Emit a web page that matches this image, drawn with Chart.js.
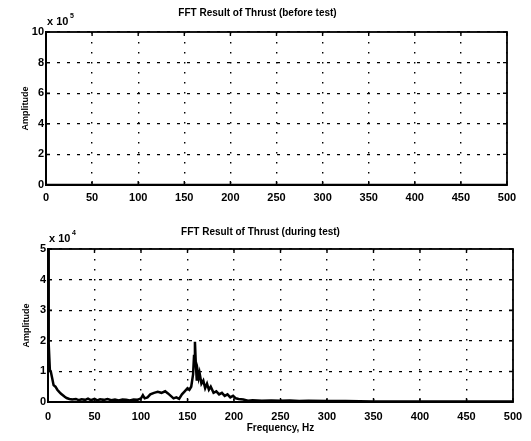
<!DOCTYPE html>
<html>
<head>
<meta charset="utf-8">
<script src="https://cdn.jsdelivr.net/npm/chart.js@4.4.0/dist/chart.umd.min.js"></script>
<style>
  body { margin: 0; background: #fff; }
  #wrap { position: relative; width: 531px; height: 441px; }
  canvas { position: absolute; left: 0; }
</style>
</head>
<body>
<div id="wrap">
  <canvas id="before" width="531" height="215" style="top:0"></canvas>
  <canvas id="during" width="531" height="226" style="top:215px"></canvas>
</div>
<script>
// before test: spectrum sits on the zero line (units x 10^5)
const freqBefore = [0, 50, 100, 150, 200, 250, 300, 350, 400, 450, 500];
const ampBefore  = [0, 0, 0, 0, 0, 0, 0, 0, 0, 0, 0];

// during test (units x 10^4)
const freqDuring = [0, 0.5, 1, 2, 3, 4, 5, 6, 8, 10, 12, 14, 16, 18, 20, 23, 26, 30, 33, 36, 40, 43, 46, 50, 53, 56, 60, 64, 68, 72, 76, 80, 84, 88, 92, 96,
  100, 102, 104, 107, 110, 114, 118, 122, 126, 129, 132, 135, 138, 141, 144, 147, 150, 152, 154, 156, 157, 158, 159, 160, 161, 162, 163, 165, 167, 169, 171, 173, 175, 178, 181, 184, 187, 190, 193, 196, 199, 202, 205,
  210, 215, 220, 230, 240, 250, 260, 270, 280, 300, 320, 350, 400, 450, 500];
const ampDuring  = [5.0, 4.2, 1.9, 1.05, 1.0, 0.85, 0.7, 0.55, 0.5, 0.4, 0.33, 0.27, 0.22, 0.17, 0.13, 0.1, 0.08, 0.1, 0.06, 0.09, 0.07, 0.11, 0.06, 0.1, 0.05, 0.09, 0.07, 0.1, 0.06, 0.08, 0.05, 0.08, 0.07, 0.05, 0.08, 0.07,
  0.12, 0.22, 0.12, 0.15, 0.25, 0.3, 0.33, 0.3, 0.35, 0.28, 0.2, 0.12, 0.15, 0.1, 0.25, 0.35, 0.45, 0.4, 0.5, 0.9, 1.5, 1.97, 1.2, 0.7, 1.0, 0.8, 0.95, 0.6, 0.7, 0.45, 0.6, 0.4, 0.5, 0.3, 0.35, 0.25, 0.3, 0.2, 0.25, 0.15, 0.2, 0.12, 0.1,
  0.08, 0.04, 0.06, 0.04, 0.05, 0.04, 0.05, 0.03, 0.04, 0.03, 0.03, 0.02, 0.02, 0.02, 0.02];

const xTickStep = 50;
const FONT = "'Liberation Sans', Arial, sans-serif";

// box around the plot, little inside ticks, and the "x 10^n" multiplier
const frame = {
  id: 'frame',
  afterDraw(chart, args, opts) {
    const { ctx, chartArea: a, scales: { x, y } } = chart;
    ctx.save();
    ctx.strokeStyle = '#000';
    ctx.lineWidth = 1.8;
    ctx.strokeRect(a.left, a.top, a.right - a.left, a.bottom - a.top);
    ctx.lineWidth = 1.4;
    ctx.beginPath();
    x.ticks.forEach(t => {
      const px = x.getPixelForValue(t.value);
      ctx.moveTo(px, a.top); ctx.lineTo(px, a.top + 4);
      ctx.moveTo(px, a.bottom); ctx.lineTo(px, a.bottom - 4);
    });
    y.ticks.forEach(t => {
      const py = y.getPixelForValue(t.value);
      ctx.moveTo(a.left, py); ctx.lineTo(a.left + 4, py);
      ctx.moveTo(a.right, py); ctx.lineTo(a.right - 4, py);
    });
    ctx.stroke();
    ctx.fillStyle = '#000';
    ctx.textBaseline = 'alphabetic';
    ctx.font = 'bold 11px ' + FONT;
    ctx.fillText('x 10', a.left + 1, a.top - 7);
    ctx.font = 'bold 7px ' + FONT;
    ctx.fillText(opts.exp, a.left + 24, a.top - 14);
    ctx.restore();
  }
};

function makeChart(id, freq, amp, o) {
  const pts = freq.map((f, i) => ({ x: f, y: amp[i] }));
  return new Chart(document.getElementById(id), {
    type: 'line',
    data: { datasets: [{ data: pts, borderColor: '#000', borderWidth: 2.5, pointRadius: 0, tension: 0 }] },
    plugins: [frame],
    options: {
      responsive: false,
      animation: false,
      layout: { padding: { left: 8, right: o.padRight, top: 0, bottom: 0 } },
      plugins: {
        legend: { display: false },
        tooltip: { enabled: false },
        title: {
          display: true, text: o.title, color: '#000',
          font: { family: FONT, size: 10, weight: 'bold' },
          padding: { top: o.titleTop, bottom: o.titleBottom }
        },
        frame: { exp: o.exp }
      },
      scales: {
        x: {
          type: 'linear', min: 0, max: 500,
          afterFit: s => { s.height = o.xHeight; },
          ticks: { stepSize: xTickStep, color: '#000', padding: o.xTickPad, maxRotation: 0,
                   font: { family: FONT, size: 11, weight: 'bold' } },
          grid: { color: '#000', lineWidth: 1.4, drawTicks: false },
          border: { display: true, color: '#000', width: 2, dash: [1.5, 8.5] },
          title: { display: !!o.xTitle, text: o.xTitle, color: '#000',
                   font: { family: FONT, size: 10, weight: 'bold' }, padding: { top: 0, bottom: 7 } }
        },
        y: {
          min: 0, max: o.yMax,
          afterFit: s => { s.width = o.yWidth; },
          ticks: { stepSize: o.yStep, color: '#000', padding: 2,
                   font: { family: FONT, size: 11, weight: 'bold' } },
          grid: { color: '#000', lineWidth: 1.2, drawTicks: false },
          border: { display: true, color: '#000', width: 2, dash: [3, 7] },
          title: { display: true, text: 'Amplitude', color: '#000',
                   font: { family: FONT, size: 9, weight: 'bold' }, padding: { top: o.yTitlePad, bottom: 0 } }
        }
      }
    }
  });
}

makeChart('before', freqBefore, ampBefore, {
  title: 'FFT Result of Thrust (before test)', exp: '5',
  yMax: 10, yStep: 2, padRight: 24, yWidth: 38, xHeight: 30, xTickPad: 6,
  titleTop: 7, titleBottom: 13, yTitlePad: 12, xTitle: ''
});

makeChart('during', freqDuring, ampDuring, {
  title: 'FFT Result of Thrust (during test)', exp: '4',
  yMax: 5, yStep: 1, padRight: 18, yWidth: 40, xHeight: 39, xTickPad: 8,
  titleTop: 11, titleBottom: 11, yTitlePad: 13, xTitle: 'Frequency, Hz'
});
</script>
</body>
</html>
